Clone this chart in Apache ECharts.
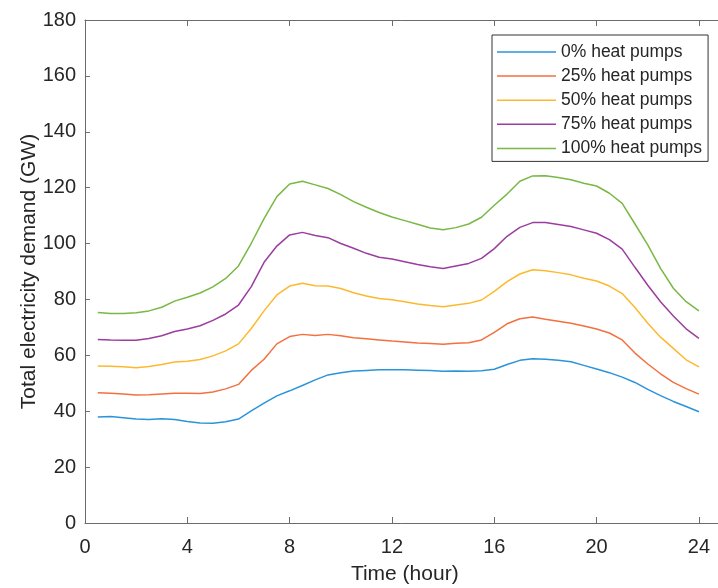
<!DOCTYPE html>
<html><head><meta charset="utf-8">
<script src="https://cdn.jsdelivr.net/npm/echarts@6/dist/echarts.min.js"></script>
<style>html,body{margin:0;padding:0;background:#fff}#chart{width:718px;height:588px}</style>
</head><body><div id="chart"></div>
<script>
const hours = [0.5,1,1.5,2,2.5,3,3.5,4,4.5,5,5.5,6,6.5,7,7.5,8,8.5,9,9.5,10,10.5,11,11.5,12,
  12.5,13,13.5,14,14.5,15,15.5,16,16.5,17,17.5,18,18.5,19,19.5,20,20.5,21,21.5,22,22.5,23,23.5,24];
const seriesNames = ['0% heat pumps','25% heat pumps','50% heat pumps','75% heat pumps','100% heat pumps'];
const hp0 = [37.9,38.1,37.7,37.2,37.0,37.3,37.0,36.3,35.8,35.7,36.2,37.2,40.1,42.9,45.5,47.3,49.2,51.2,53.0,53.8,54.4,54.6,54.8,54.8,
  54.8,54.7,54.6,54.3,54.4,54.3,54.5,55.0,56.7,58.2,58.8,58.6,58.2,57.7,56.4,55.1,53.8,52.2,50.3,47.8,45.6,43.5,41.7,39.8];
const hp25 = [46.6,46.4,46.2,45.8,45.9,46.2,46.4,46.4,46.3,46.9,48.0,49.6,54.6,58.6,64.1,66.7,67.5,67.1,67.5,67.0,66.3,65.9,65.5,65.1,
  64.8,64.4,64.2,64.0,64.3,64.5,65.5,68.2,71.3,73.1,73.7,72.9,72.2,71.5,70.5,69.4,68.0,65.5,60.8,56.9,53.4,50.3,48.1,46.1];
const hp50 = [56.2,56.1,55.9,55.6,56.0,56.7,57.6,57.9,58.5,59.8,61.6,64.1,69.6,75.9,81.6,84.8,85.8,84.9,84.8,83.9,82.4,81.2,80.3,79.9,
  79.2,78.4,77.8,77.4,78.0,78.6,79.8,82.9,86.4,89.1,90.6,90.3,89.6,88.8,87.6,86.6,84.8,82.1,77.1,71.5,66.5,62.5,58.4,55.9];
const hp75 = [65.7,65.5,65.4,65.4,66.0,67.0,68.5,69.4,70.6,72.5,74.8,78.0,84.6,93.3,99.1,103.1,104.0,102.9,102.1,100.0,98.3,96.5,95.1,94.5,
  93.5,92.5,91.7,91.1,92.0,92.9,94.7,98.2,102.6,105.8,107.5,107.5,106.8,106.1,104.9,103.7,101.4,98.0,91.5,85.1,79.2,74.1,69.5,66.1];
const hp100 = [75.3,75.0,75.0,75.2,75.9,77.2,79.4,80.8,82.3,84.5,87.5,92.0,100.1,108.9,116.8,121.3,122.3,121.0,119.7,117.5,115.0,113.0,111.1,109.5,
  108.2,106.9,105.6,104.9,105.7,107.0,109.4,113.7,117.7,122.3,124.2,124.3,123.6,122.8,121.6,120.6,118.0,114.4,107.0,99.5,91.1,84.0,79.2,75.9];
const xTicks = [0,4,8,12,16,20,24];
const yTicks = [0,20,40,60,80,100,120,140,160,180];

const allValues = [hp0, hp25, hp50, hp75, hp100];
const colors = ['#2a94db','#f3703f','#fcb92e','#9b3d9f','#78b843'];
const FONT = '"Liberation Sans", Arial, Helvetica, sans-serif';
const TXT = '#262626';
const AX = '#6b6b6b';

const chart = echarts.init(document.getElementById('chart'), null, {renderer: 'canvas'});
const option = {
  animation: false,
  backgroundColor: '#ffffff',
  textStyle: {fontFamily: FONT},
  grid: {left: 85, top: 20, right: -6.5, bottom: 65, containLabel: false, outerBoundsMode: 'none'},
  legend: {
    orient: 'vertical', left: 492, top: 35,
    padding: [8, 6, 4, 5], itemGap: 6.1, itemWidth: 59, itemHeight: 1.5,
    icon: 'rect',
    borderColor: '#333333', borderWidth: 1, backgroundColor: '#ffffff',
    textStyle: {fontFamily: FONT, fontSize: 17.5, lineHeight: 14, color: TXT},
    data: seriesNames
  },
  xAxis: [{
    type: 'value', min: 0, max: 25, interval: 4, position: 'bottom',
    name: 'Time (hour)', nameLocation: 'middle', nameGap: 40.5, nameMoveOverlap: false,
    nameTextStyle: {fontFamily: FONT, fontSize: 21, color: TXT},
    axisLine: {show: true, lineStyle: {color: AX, width: 1}},
    axisTick: {show: true, inside: true, length: 6, lineStyle: {color: AX}},
    axisLabel: {fontFamily: FONT, fontSize: 20, color: TXT, margin: 14,
      formatter: v => xTicks.indexOf(v) >= 0 ? String(v) : ''},
    splitLine: {show: false}
  }, {
    type: 'value', min: 0, max: 25, interval: 4, position: 'top',
    axisLine: {show: true, lineStyle: {color: AX, width: 1}},
    axisTick: {show: true, inside: true, length: 6, lineStyle: {color: AX}},
    axisLabel: {show: false}, splitLine: {show: false}
  }],
  yAxis: {
    type: 'value', min: 0, max: 180, interval: 20,
    name: 'Total electricity demand (GW)', nameLocation: 'middle', nameGap: 45, nameMoveOverlap: false,
    nameTextStyle: {fontFamily: FONT, fontSize: 21, color: TXT},
    axisLine: {show: true, lineStyle: {color: AX, width: 1}},
    axisTick: {show: true, inside: true, length: 5, lineStyle: {color: AX}},
    axisLabel: {fontFamily: FONT, fontSize: 20, color: TXT, margin: 9,
      formatter: v => yTicks.indexOf(v) >= 0 ? String(v) : ''},
    splitLine: {show: false}
  },
  series: allValues.map((vals, i) => ({
    name: seriesNames[i], type: 'line', xAxisIndex: 0,
    symbol: 'none', showSymbol: false, smooth: false,
    lineStyle: {color: colors[i], width: 1.5},
    itemStyle: {color: colors[i]},
    data: hours.map((h, j) => [h, vals[j]])
  }))
};
chart.setOption(option);
</script></body></html>
